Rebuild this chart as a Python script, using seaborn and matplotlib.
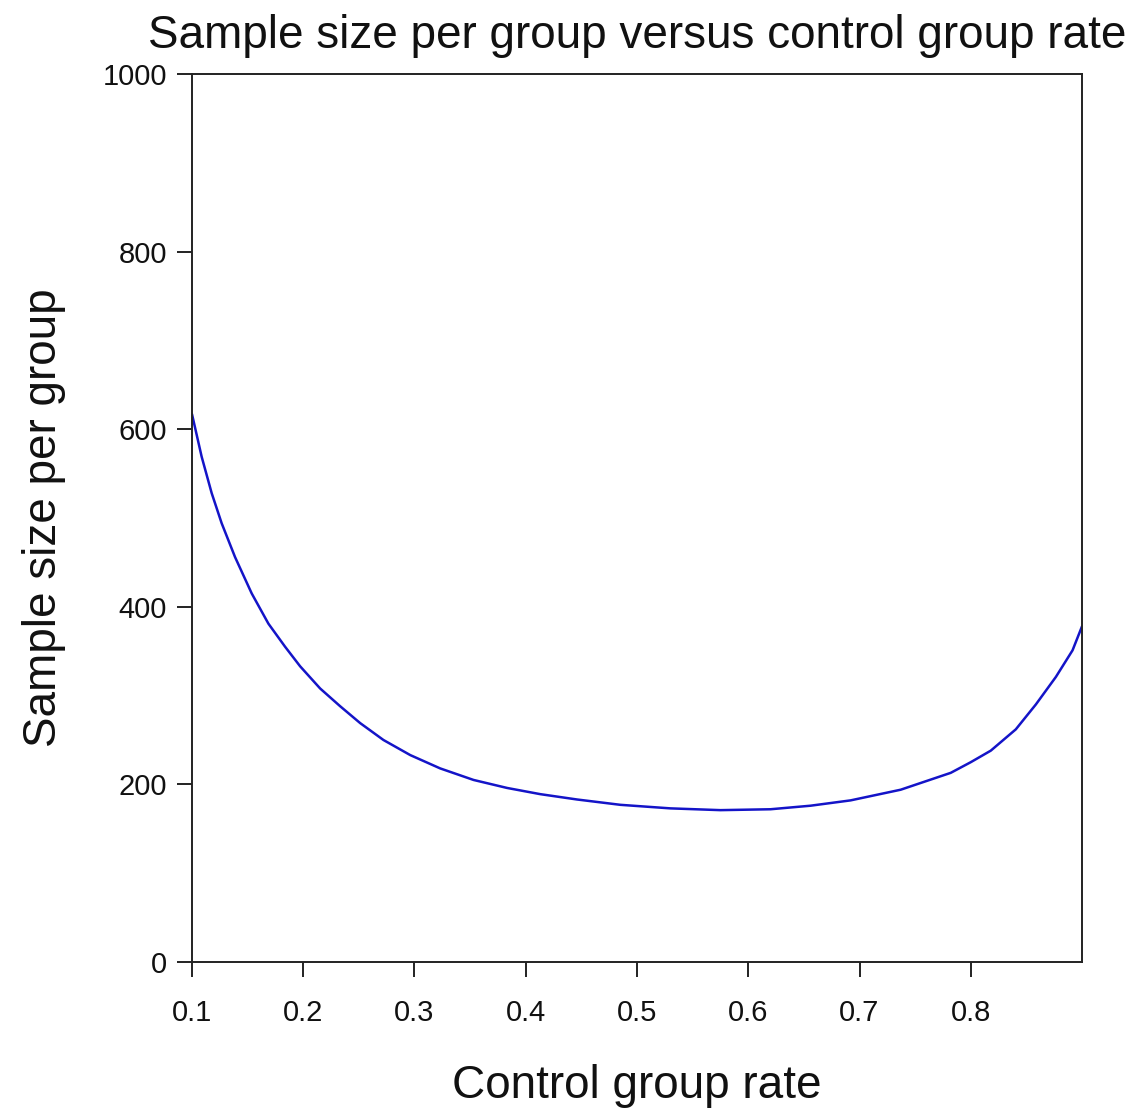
import pandas as pd
import matplotlib
matplotlib.use("Agg")
import matplotlib.pyplot as plt
import seaborn as sns

# Valores
control_rate = [0.100, 0.1087, 0.1177, 0.1267, 0.1387, 0.1537, 0.1687, 0.1837,
                0.1972, 0.2152, 0.2332, 0.2512, 0.2721, 0.2962, 0.3231, 0.3531,
                0.3832, 0.4131, 0.4461, 0.485, 0.530, 0.575, 0.620, 0.656,
                0.692, 0.737, 0.782, 0.800, 0.818, 0.8405, 0.8585, 0.8765,
                0.8915, 0.900]
sample_size = [617, 569, 528, 494, 456, 415, 381, 355,
               333, 308, 288, 269, 250, 233, 218, 205,
               196, 189, 183, 177, 173, 171, 172, 176,
               182, 194, 213, 225, 238, 262, 290, 321,
               351, 378]

x_ticks = [0.1, 0.2, 0.3, 0.4, 0.5, 0.6, 0.7, 0.8]
x_tick_labels = ["0.1", "0.2", "0.3", "0.4", "0.5", "0.6", "0.7", "0.8"]
y_ticks = [0, 200, 400, 600, 800, 1000]

# Estilo
sns.set_theme(style="ticks")
plt.rcParams['font.family'] = ['Liberation Sans', 'DejaVu Sans']

df = pd.DataFrame({'rate': control_rate, 'n': sample_size})

fig = plt.figure(figsize=(11.38, 11.16), dpi=100)
ax = fig.add_axes([0.1687, 0.138, 0.7821, 0.7957])

sns.lineplot(data=df, x='rate', y='n', color='#1414c8', linewidth=1.8, ax=ax)

ax.set_xlim(0.1, 0.9)
ax.set_ylim(0, 1000)
ax.set_xticks(x_ticks)
ax.set_xticklabels(x_tick_labels)
ax.set_yticks(y_ticks)

for side in ['top', 'right', 'left', 'bottom']:
    ax.spines[side].set_visible(True)
    ax.spines[side].set_color('#222222')
    ax.spines[side].set_linewidth(1.4)

ax.tick_params(axis='both', direction='out', length=11, width=1.4,
               color='#222222', labelsize=21, labelcolor='#111111')
ax.tick_params(axis='x', pad=16)
ax.tick_params(axis='y', pad=7)

ax.set_title('Sample size per group versus control group rate',
             fontsize=33, pad=19, color='#111111')
ax.set_xlabel('Control group rate', fontsize=33, labelpad=26, color='#111111')
ax.set_ylabel('Sample size per group', fontsize=33, labelpad=26, color='#111111')

fig.savefig('out.png', dpi=100, facecolor='white')
plt.close(fig)
